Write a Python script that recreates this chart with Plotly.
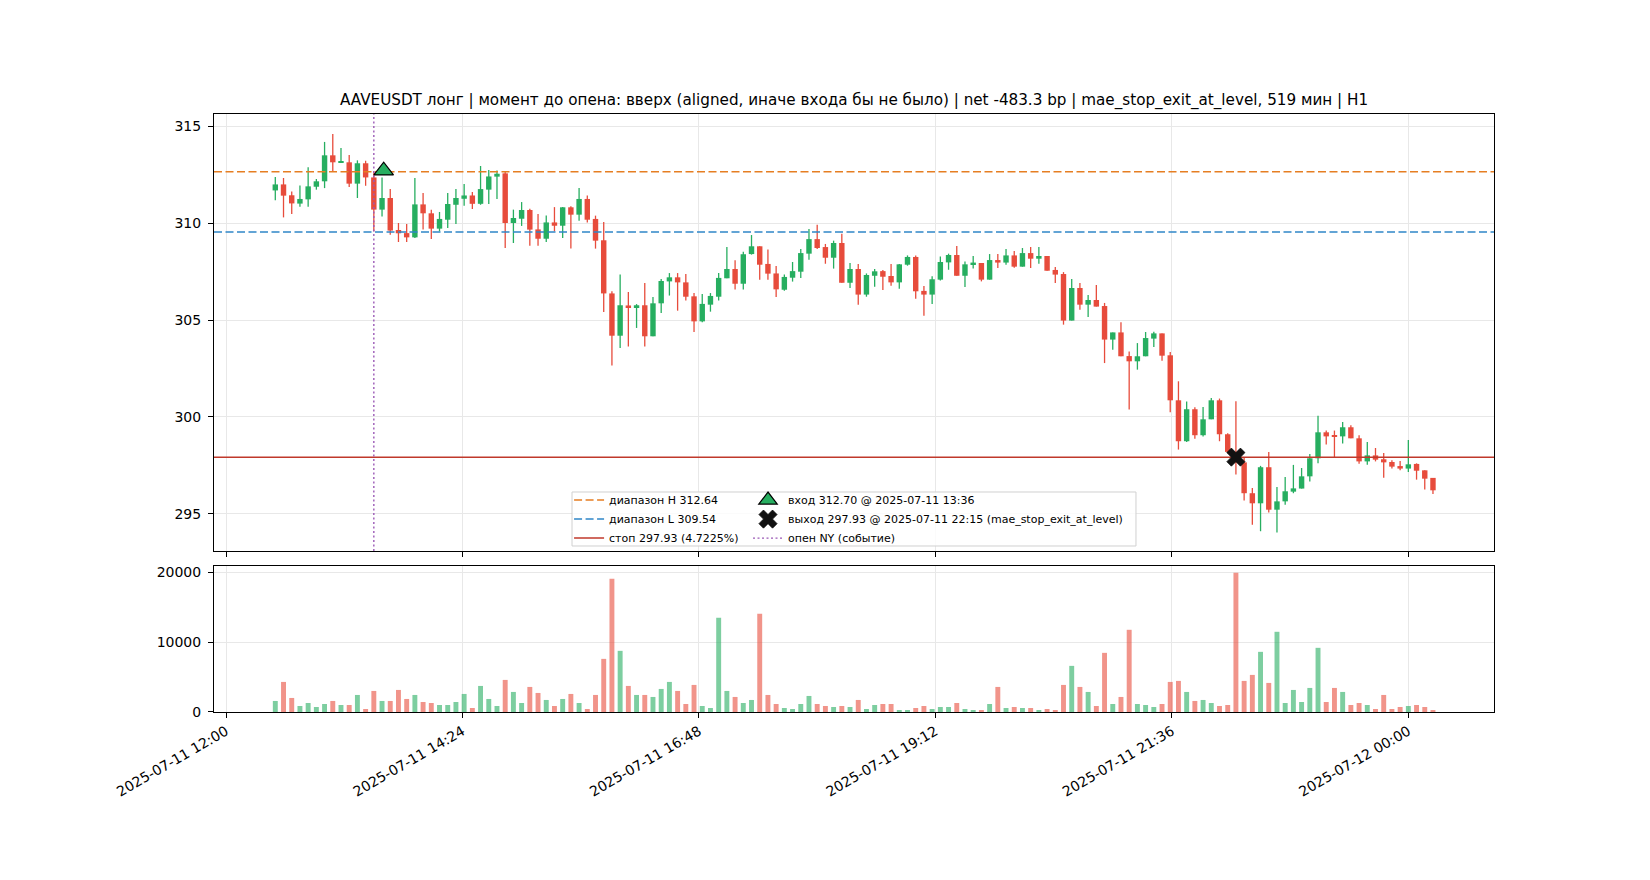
import pandas as pd
import plotly.graph_objects as go
from plotly.subplots import make_subplots

symbol = "AAVEUSDT"
first_bar = "2025-07-11 12:30"

# 5m OHLCV
opens = [
    311.68, 311.99, 311.43, 311.00, 311.22, 311.87, 312.15, 313.49, 313.12, 313.13,
    312.03, 313.08, 312.35, 310.69, 311.29, 309.64, 309.48, 309.26, 310.96, 310.50,
    309.71, 310.17, 310.94, 311.25, 311.42, 310.99, 311.72, 312.39, 312.56, 310.00,
    310.22, 310.67, 309.67, 309.19, 310.03, 309.86, 310.81, 310.43, 311.24, 310.21,
    309.11, 306.37, 304.19, 305.75, 305.66, 305.76, 304.16, 305.86, 306.99, 307.20,
    306.94, 306.22, 304.93, 305.79, 306.20, 307.15, 307.63, 306.87, 308.40, 308.80,
    307.89, 307.40, 306.56, 307.18, 307.49, 308.42, 309.17, 308.76, 308.21, 308.97,
    306.92, 307.63, 306.31, 307.28, 307.52, 307.27, 306.94, 307.85, 308.25, 306.50,
    306.31, 307.08, 307.97, 308.35, 307.28, 307.87, 307.94, 307.08, 308.09, 307.96,
    308.33, 307.75, 308.45, 308.16, 308.30, 307.58, 307.37, 304.97, 306.65, 305.79,
    306.03, 305.72, 303.99, 304.36, 303.14, 302.87, 303.13, 304.04, 304.31, 303.18,
    300.86, 298.75, 300.40, 299.06, 299.88, 300.86, 299.11, 298.20, 297.66, 296.07,
    295.55, 297.41, 295.22, 295.65, 296.15, 296.31, 296.94, 297.87, 299.21, 299.02,
    299.00, 299.47, 298.90, 297.71, 298.02, 297.82, 297.68, 297.47, 297.34, 297.58,
    297.25, 296.86,
]
highs = [
    312.37, 312.32, 311.63, 311.94, 312.87, 312.27, 314.18, 314.59, 313.87, 313.50,
    313.23, 313.21, 312.66, 312.35, 311.75, 310.00, 309.95, 312.32, 311.55, 310.69,
    310.57, 311.55, 311.75, 312.01, 311.60, 312.94, 312.73, 312.71, 312.66, 310.69,
    311.08, 310.74, 310.46, 310.39, 310.82, 310.82, 310.86, 311.80, 311.42, 310.38,
    310.05, 306.48, 307.34, 306.44, 305.82, 306.91, 306.19, 307.11, 307.42, 307.42,
    307.37, 306.39, 306.34, 306.39, 307.42, 308.76, 308.08, 308.52, 309.38, 308.80,
    308.63, 307.78, 307.34, 307.99, 308.66, 309.69, 309.91, 308.92, 309.09, 309.45,
    307.94, 307.89, 307.40, 307.63, 307.58, 307.89, 307.89, 308.33, 308.32, 306.75,
    307.25, 308.28, 308.42, 308.81, 308.02, 308.30, 307.94, 308.40, 308.40, 308.66,
    308.56, 308.71, 308.76, 308.76, 308.30, 307.73, 307.47, 307.11, 306.91, 306.29,
    306.80, 305.88, 304.36, 304.88, 303.38, 303.81, 304.38, 304.40, 304.31, 303.35,
    301.84, 300.80, 300.50, 300.52, 300.98, 300.95, 299.16, 300.81, 297.89, 296.34,
    297.48, 298.20, 296.39, 296.91, 297.53, 297.37, 298.09, 300.07, 299.30, 299.30,
    299.74, 299.57, 299.06, 298.71, 298.40, 298.14, 297.77, 297.73, 298.81, 297.61,
    297.25, 296.86,
]
lows = [
    311.17, 310.29, 310.46, 310.84, 310.84, 311.72, 311.80, 312.66, 313.12, 311.86,
    311.29, 311.92, 309.57, 310.33, 309.40, 309.02, 309.02, 309.23, 309.66, 309.18,
    309.57, 309.74, 309.95, 310.89, 310.72, 310.94, 310.98, 311.24, 308.71, 308.97,
    309.85, 308.83, 308.83, 309.02, 309.57, 309.23, 308.68, 310.12, 310.03, 308.68,
    305.41, 302.65, 303.56, 303.63, 304.59, 303.63, 304.16, 305.36, 306.26, 305.48,
    306.00, 304.38, 304.88, 305.43, 306.00, 307.15, 306.57, 306.57, 308.37, 307.08,
    307.08, 306.19, 306.51, 306.98, 307.16, 308.11, 308.66, 307.90, 307.65, 306.92,
    306.65, 305.79, 306.20, 306.72, 306.55, 306.77, 306.61, 307.80, 306.10, 305.22,
    305.82, 307.03, 307.59, 307.28, 306.70, 307.65, 306.99, 307.08, 307.68, 307.85,
    307.70, 307.75, 307.68, 307.90, 307.54, 306.91, 304.76, 304.97, 305.53, 305.16,
    305.69, 302.78, 303.47, 303.13, 300.38, 302.44, 303.13, 303.61, 302.90, 300.24,
    298.32, 298.71, 298.88, 298.99, 299.88, 298.75, 298.13, 297.03, 295.69, 294.45,
    294.11, 295.07, 294.04, 295.48, 296.07, 296.31, 296.68, 297.61, 298.58, 297.92,
    298.63, 298.90, 297.59, 297.54, 297.71, 296.87, 297.34, 297.25, 297.16, 296.77,
    296.26, 296.03,
]
closes = [
    311.99, 311.41, 311.01, 311.24, 311.89, 312.15, 313.49, 313.13, 313.14, 312.03,
    313.08, 312.35, 310.69, 311.29, 309.61, 309.47, 309.26, 310.96, 310.50, 309.71,
    310.21, 310.98, 311.29, 311.42, 310.99, 311.75, 312.40, 312.54, 310.00, 310.26,
    310.67, 309.66, 309.19, 310.03, 309.86, 310.81, 310.43, 311.24, 310.17, 309.09,
    306.37, 304.19, 305.76, 305.65, 305.76, 304.16, 305.86, 307.01, 307.20, 306.94,
    306.20, 304.93, 305.83, 306.24, 307.17, 307.63, 306.87, 308.39, 308.80, 307.85,
    307.39, 306.58, 307.22, 307.52, 308.45, 309.17, 308.71, 308.21, 308.97, 306.92,
    307.63, 306.31, 307.32, 307.51, 307.23, 306.94, 307.87, 308.25, 306.48, 306.31,
    307.10, 307.99, 308.35, 307.28, 307.87, 307.96, 307.08, 308.09, 307.96, 308.33,
    307.75, 308.45, 308.16, 308.30, 307.54, 307.34, 304.97, 306.65, 305.79, 306.03,
    305.69, 303.99, 304.36, 303.13, 302.87, 303.13, 304.07, 304.31, 303.16, 300.86,
    298.75, 300.40, 299.06, 299.88, 300.86, 299.11, 298.20, 297.66, 296.07, 295.55,
    297.41, 295.22, 295.65, 296.17, 296.32, 296.94, 297.87, 299.21, 299.00, 299.00,
    299.47, 298.90, 297.71, 298.02, 297.80, 297.66, 297.44, 297.34, 297.56, 297.23,
    296.82, 296.22,
]
volumes = [
    1579, 4306, 2010, 861, 1292, 718, 1148, 1579, 1005, 1005,
    2440, 431, 3014, 1579, 1579, 3158, 1866, 2440, 1435, 1292,
    1005, 1005, 1435, 2584, 574, 3732, 1866, 861, 4593, 2871,
    1292, 3589, 2727, 1722, 861, 1866, 2584, 1292, 431, 2440,
    7608, 19091, 8756, 3732, 2440, 2440, 2153, 3301, 4306, 3014,
    1148, 3876, 861, 574, 13493, 3014, 2153, 1292, 1722, 14067,
    2440, 1148, 574, 431, 1148, 2297, 1148, 861, 718, 861,
    718, 1722, 431, 1005, 1148, 1148, 144, 287, 574, 861,
    431, 718, 718, 1292, 431, 287, 144, 1148, 3589, 574,
    718, 574, 574, 287, 431, 287, 3876, 6603, 3589, 2871,
    861, 8469, 1148, 2153, 11770, 1148, 1005, 718, 1148, 4306,
    4450, 2871, 1579, 1722, 1292, 861, 1005, 19952, 4450, 5311,
    8612, 4163, 11483, 1292, 3158, 1435, 3445, 9187, 1435, 3445,
    2871, 1005, 1292, 1005, 431, 2440, 431, 718, 861, 1005,
    718, 144,
]

range_high = 312.64
range_low = 309.54
stop_price = 297.93
stop_pct = 4.7225
entry_time = "2025-07-11 13:36"
entry_price = 312.70
exit_time = "2025-07-11 22:15"
exit_price = 297.93
exit_reason = "mae_stop_exit_at_level"
ny_open = "2025-07-11 13:30"
net_bp = -483.3
hold_min = 519

x_ticks = ["2025-07-11 12:00", "2025-07-11 14:24", "2025-07-11 16:48",
           "2025-07-11 19:12", "2025-07-11 21:36", "2025-07-12 00:00"]
x_view = ["2025-07-11 11:52:40", "2025-07-12 00:52:10"]
price_view = [293.09, 315.62]
vol_view = [0, 20900]

GREEN = "#27ae60"
RED = "#e74c3c"
FONT = "DejaVu Sans"

times = pd.date_range(first_bar, periods=len(opens), freq="5min")
up = [c >= o for o, c in zip(opens, closes)]

fig = make_subplots(rows=2, cols=1, shared_xaxes=True)

# wicks
for is_up, col in ((True, GREEN), (False, RED)):
    wx, wy = [], []
    for t, h, l, u in zip(times, highs, lows, up):
        if u == is_up:
            wx += [t, t, None]
            wy += [l, h, None]
    fig.add_trace(go.Scatter(x=wx, y=wy, mode="lines", line=dict(color=col, width=1.3),
                             showlegend=False, hoverinfo="skip"), row=1, col=1)

# bodies
body_base = [min(o, c) for o, c in zip(opens, closes)]
body_h = [max(abs(c - o), 0.07) for o, c in zip(opens, closes)]
fig.add_trace(go.Bar(x=times, y=body_h, base=body_base, width=3.3 * 60000,
                     marker=dict(color=[GREEN if u else RED for u in up], line_width=0),
                     showlegend=False, hoverinfo="skip"), row=1, col=1)

# levels
fig.add_trace(go.Scatter(x=x_view, y=[range_high, range_high], mode="lines",
                         line=dict(color="#e67e22", width=1.5, dash="8px,3.5px"),
                         name=f"диапазон H {range_high}", legend="legend"), row=1, col=1)
fig.add_trace(go.Scatter(x=x_view, y=[range_low, range_low], mode="lines",
                         line=dict(color="#2f86c8", width=1.5, dash="8px,3.5px"),
                         name=f"диапазон L {range_low}", legend="legend"), row=1, col=1)
fig.add_trace(go.Scatter(x=x_view, y=[stop_price, stop_price], mode="lines",
                         line=dict(color="#c0392b", width=1.5),
                         name=f"стоп {stop_price} ({stop_pct}%)", legend="legend"), row=1, col=1)

fig.add_trace(go.Scatter(x=[entry_time], y=[entry_price], mode="markers",
                         marker=dict(symbol="triangle-up", size=17, color=GREEN,
                                     line=dict(color="black", width=1.2)),
                         name=f"вход {entry_price:.2f} @ {entry_time}", legend="legend2"), row=1, col=1)
fig.add_trace(go.Scatter(x=[exit_time], y=[exit_price], mode="markers",
                         marker=dict(symbol="x", size=16, color="#111111",
                                     line=dict(color="#111111", width=0.8)),
                         name=f"выход {exit_price:.2f} @ {exit_time} ({exit_reason})",
                         legend="legend2"), row=1, col=1)
fig.add_trace(go.Scatter(x=[ny_open, ny_open], y=price_view, mode="lines",
                         line=dict(color="#9b59b6", width=1.4, dash="2px,2.5px"),
                         name="опен NY (событие)", legend="legend2"), row=1, col=1)

# volume
fig.add_trace(go.Bar(x=times, y=volumes, width=3.0 * 60000,
                     marker=dict(color=[GREEN if u else RED for u in up], opacity=0.6, line_width=0),
                     showlegend=False, hoverinfo="skip"), row=2, col=1)

axis_common = dict(showline=True, linecolor="black", linewidth=1, mirror=True,
                   ticks="outside", ticklen=5, tickwidth=1, tickcolor="black",
                   showgrid=True, gridcolor="#e8e8e8", gridwidth=1, zeroline=False,
                   tickfont=dict(family=FONT, size=14, color="black"))

fig.update_xaxes(**axis_common, type="date", range=x_view, tickvals=x_ticks)
fig.update_xaxes(showticklabels=False, row=1, col=1)
fig.update_xaxes(ticktext=x_ticks, tickangle=-30, row=2, col=1)
fig.update_yaxes(**axis_common, ticklabelstandoff=4)
fig.update_yaxes(range=price_view, tickvals=[295, 300, 305, 310, 315], domain=[0.2692, 1], row=1, col=1)
fig.update_yaxes(range=vol_view, tickvals=[0, 10000, 20000], tickformat="d",
                 domain=[0, 0.2441], row=2, col=1)

legend_common = dict(bgcolor="rgba(0,0,0,0)", borderwidth=0, xanchor="left", yanchor="top",
                     font=dict(family=FONT, size=11, color="black"), tracegroupgap=0)

fig.update_layout(
    width=1650, height=880,
    margin=dict(l=206, r=164, t=106, b=176),
    paper_bgcolor="white", plot_bgcolor="white",
    font=dict(family=FONT, color="black"),
    barmode="overlay",
    title=dict(text=f"{symbol} лонг | момент до опена: вверх (aligned, иначе входа бы не было) | "
                    f"net {net_bp} bp | {exit_reason}, {hold_min} мин | H1",
               x=0.5, xref="paper", y=1 - 92 / 880, yref="container", yanchor="middle",
               font=dict(family=FONT, size=15.2, color="black")),
    legend=dict(x=0.2774, y=0.3786, **legend_common),
    legend2=dict(x=0.4172, y=0.3786, **legend_common),
    shapes=[dict(type="rect", xref="paper", yref="paper", x0=0.2797, x1=0.7203, y0=0.2776, y1=0.3679,
                 line=dict(color="#d0d0d0", width=1), fillcolor="rgba(255,255,255,0.8)", layer="above")],
)

fig.write_html("out.html")
